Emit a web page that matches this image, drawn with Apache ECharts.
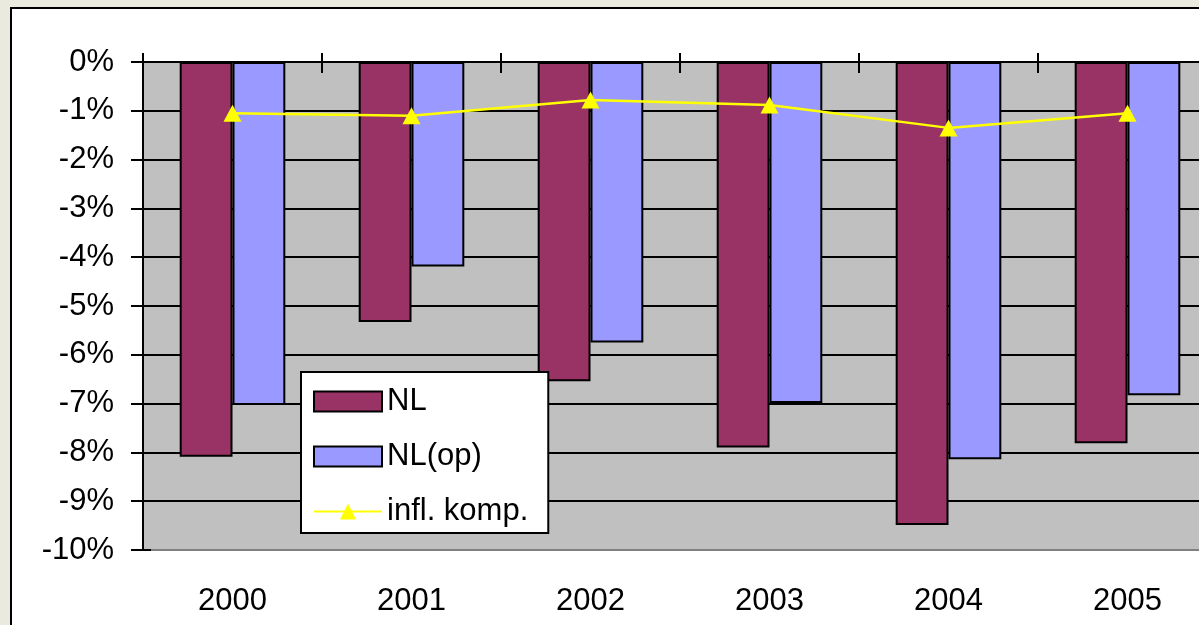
<!DOCTYPE html>
<html>
<head>
<meta charset="utf-8">
<script src="https://cdn.jsdelivr.net/npm/echarts@6/dist/echarts.min.js"></script>
<style>
html,body{margin:0;padding:0;background:#EAEADE;overflow:hidden;}
#chart{width:1230px;height:625px;}
</style>
</head>
<body>
<div id="chart"></div>
<script>
const years = ['2000', '2001', '2002', '2003', '2004', '2005'];
const nl = [-8.09, -5.33, -6.54, -7.90, -9.49, -7.81];
const nlOp = [-7.03, -4.19, -5.75, -6.99, -8.14, -6.83];
const inflKomp = [-1.05, -1.10, -0.78, -0.88, -1.35, -1.05];
const seriesNames = ['NL', 'NL(op)', 'infl. komp.'];

const FONT = 'Liberation Sans, Arial, sans-serif';
const chart = echarts.init(document.getElementById('chart'));

const splitColors = ['#808080', '#000', '#000', '#000', '#000', '#000', '#000', '#000', '#000', '#000', '#000'];

chart.setOption({
  backgroundColor: '#EAEADE',
  animation: false,
  graphic: [{
    type: 'rect', z: -10, silent: true,
    shape: { x: 11, y: 8, width: 1400, height: 800 },
    style: { fill: '#FFFFFF', stroke: '#000000', lineWidth: 2 }
  }],
  grid: {
    left: 143, top: 62, width: 1074, height: 488, outerBoundsMode: 'none',
    show: true, backgroundColor: '#C0C0C0', borderColor: '#808080', borderWidth: 2
  },
  legend: {
    orient: 'vertical',
    left: 301, top: 372,
    padding: [14, 20, 6, 12],
    backgroundColor: '#FFFFFF', borderColor: '#000000', borderWidth: 2, borderRadius: 0,
    itemWidth: 68, itemHeight: 20, itemGap: 24,
    textStyle: { fontFamily: FONT, fontSize: 31, color: '#000', lineHeight: 30 },
    data: [
      { name: seriesNames[0], icon: 'rect' },
      { name: seriesNames[1], icon: 'rect' },
      { name: seriesNames[2] }
    ]
  },
  xAxis: [{
    type: 'category', data: years, position: 'bottom', gridIndex: 0,
    axisLine: { show: false }, axisTick: { show: false },
    axisLabel: { fontFamily: FONT, fontSize: 31, color: '#000', margin: 36 }
  }, {
    type: 'category', data: years, position: 'top', gridIndex: 0,
    axisLine: { show: true, lineStyle: { color: '#000', width: 2 } },
    axisTick: { show: true, inside: false, length: 9, lineStyle: { color: '#000', width: 2 } },
    axisLabel: { show: false }
  }, {
    type: 'category', data: years, position: 'top', gridIndex: 0,
    axisLine: { show: false },
    axisTick: { show: true, inside: true, length: 11, lineStyle: { color: '#000', width: 2 } },
    axisLabel: { show: false }
  }],
  yAxis: [{
    type: 'value', min: -10, max: 0, interval: 1, position: 'left',
    axisLine: { show: true, lineStyle: { color: '#000', width: 2 } },
    axisTick: { show: true, length: 12, lineStyle: { color: '#000', width: 2 } },
    axisLabel: { fontFamily: FONT, fontSize: 31, color: '#000', margin: 29, formatter: '{value}%' },
    splitLine: { show: true, lineStyle: { color: splitColors, width: 2 } }
  }, {
    type: 'value', min: -10, max: 0, interval: 1, position: 'left',
    axisLine: { show: false },
    axisTick: { show: true, inside: true, length: 8, lineStyle: { color: '#000', width: 2 } },
    axisLabel: { show: false },
    splitLine: { show: false }
  }],
  series: [{
    name: seriesNames[0], type: 'bar', data: nl, xAxisIndex: 0, yAxisIndex: 0,
    barWidth: '29.5%', barGap: '0%',
    itemStyle: { color: '#993366', borderColor: '#000', borderWidth: 2 }
  }, {
    name: seriesNames[1], type: 'bar', data: nlOp, xAxisIndex: 0, yAxisIndex: 0,
    barWidth: '29.5%', barGap: '0%',
    itemStyle: { color: '#9999FF', borderColor: '#000', borderWidth: 2 }
  }, {
    name: seriesNames[2], type: 'line', data: inflKomp, xAxisIndex: 0, yAxisIndex: 0,
    symbol: 'triangle', symbolSize: [18, 17], z: 5,
    lineStyle: { color: '#FFFF00', width: 2.5 },
    itemStyle: { color: '#FFFF00', borderWidth: 0 }
  }]
});
</script>
</body>
</html>
